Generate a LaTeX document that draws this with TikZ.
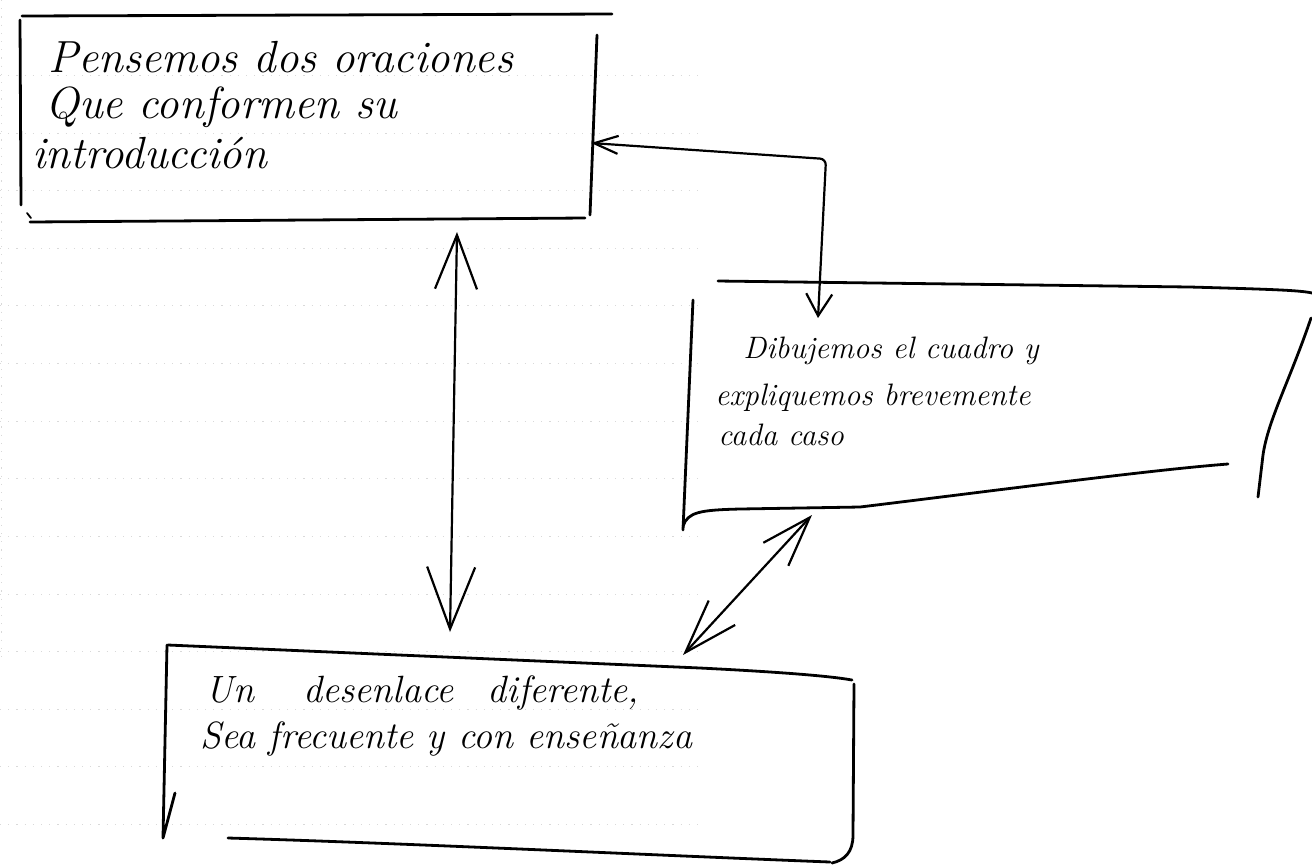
\documentclass[tikz,border=0pt]{standalone}
\usepackage{fontspec}
\usetikzlibrary{arrows.meta}
\newcommand{\fsA}{\fontsize{22.5}{25}\selectfont\itshape}
\newcommand{\fsB}{\fontsize{15.5}{18}\selectfont\itshape}
\newcommand{\fsC}{\fontsize{19}{21}\selectfont\itshape}
\begin{document}
\begin{tikzpicture}[x=0.5pt,y=-0.5pt,
  pen/.style={line width=1.4pt,line cap=round,line join=round},
  conn/.style={line width=1.1pt,line cap=round,line join=round},
  hand/.style={inner sep=0pt,anchor=base west},
  ruled/.style={gray!30,line width=0.5pt,dash pattern=on 0.6pt off 3.5pt}]
\useasboundingbox[fill=white] (0,0) rectangle (1312,864);

% faint ruled paper
\foreach \yy in {75,133,190,248,305,363,421,478,536,594,651,709,766,824}
  \draw[ruled] (0,\yy) -- (700,\yy);
\draw[ruled] (1,0) -- (1,660);

% box 1
\draw[pen] (22,16) -- (612,14);
\draw[pen] (20,20) -- (21,205);
\draw[pen] (597,35) -- (590,215);
\draw[pen] (30,222) -- (585,218);
\draw[pen,line width=0.9pt] (27,213) -- (31,218);
\node[hand,font=\fsA] (t1a) at (48,72) {Pensemos dos oraciones};
\node[hand,font=\fsA] (t1b) at (45,118) {Que conformen su};
\node[hand,font=\fsA] (t1c) at (32,168) {introducción};

% box 2
\draw[pen] (718,281) -- (1190,287) .. controls (1260,289) and (1300,290) .. (1312,293);
\draw[pen] (693,300) -- (683,530);
\draw[pen] (1311,318) .. controls (1290,380) and (1268,420) .. (1263,455) -- (1258,497);
\draw[pen] (683,526) .. controls (688,512) and (700,510) .. (740,509) -- (860,507)
  .. controls (1000,490) and (1150,470) .. (1228,464);
\node[hand,font=\fsB] (t2a) at (743,358) {Dibujemos el cuadro y};
\node[hand,font=\fsB] (t2b) at (715,405) {expliquemos brevemente};
\node[hand,font=\fsB] (t2c) at (718,445) {cada caso};

% box 3
\draw[pen] (168,645) -- (700,668) .. controls (780,672) and (830,676) .. (852,680);
\draw[pen] (167,645) -- (163,838) -- (175,793);
\draw[pen] (854,684) -- (853,835) .. controls (853,852) and (845,860) .. (832,863);
\draw[pen] (228,838) .. controls (400,843) and (650,855) .. (830,862);
\node[hand,font=\fsC] (t3a) at (205,702) {Un\hspace{1.3em}desenlace\hspace{0.9em}diferente,};
\node[hand,font=\fsC] (t3b) at (200,748) {Sea frecuente y con enseñanza};

% connector end points
\coordinate (b1r) at (591,143);
\coordinate (k1) at (826,159);
\coordinate (b2t) at (818,318);
\coordinate (b1b) at (457,232);
\coordinate (b3t) at (450,632);
\coordinate (b3r) at (683,655);
\coordinate (b2b) at (812,515);

% connectors
\draw[conn,rounded corners=3pt,
  {Straight Barb[length=12pt,width=9pt]}-{Straight Barb[length=11pt,width=13pt]}]
  (b1r) -- (k1) -- (b2t);
\draw[conn,{Straight Barb[length=27pt,width=21pt]}-{Straight Barb[length=31pt,width=24pt]}]
  (b1b) -- (b3t);
\draw[conn,{Straight Barb[length=27pt,width=18pt]}-{Straight Barb[length=25pt,width=17pt]}]
  (b3r) -- (b2b);
\end{tikzpicture}
\end{document}
